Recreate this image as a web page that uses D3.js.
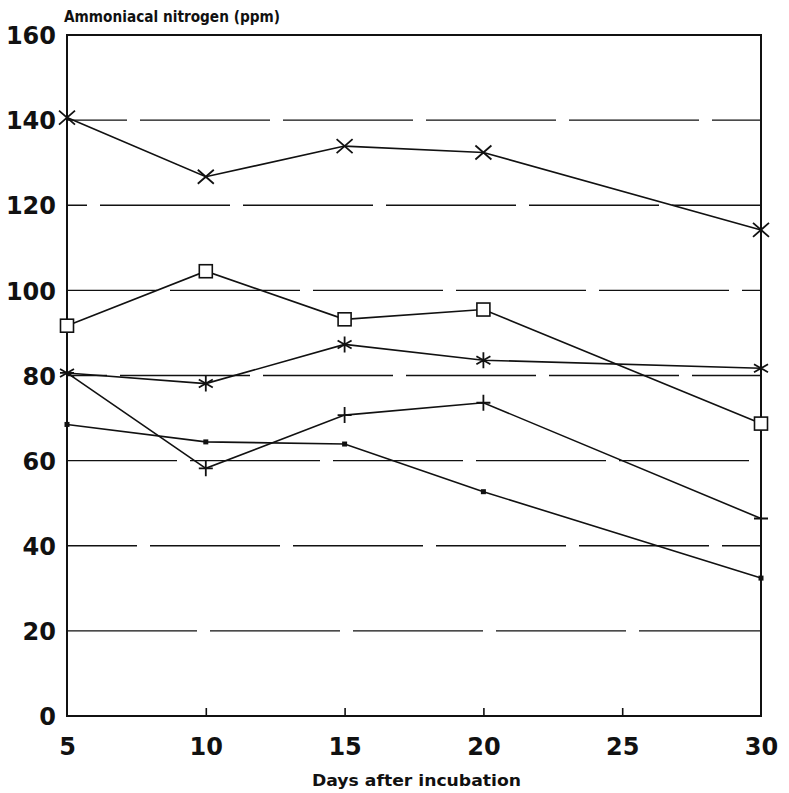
<!DOCTYPE html>
<html>
<head>
<meta charset="utf-8">
<script src="https://cdn.jsdelivr.net/npm/d3@7/dist/d3.min.js"></script>
<style>
  html, body { margin: 0; padding: 0; background: #fff; }
  svg { display: block; }
  text { font-family: "DejaVu Sans", "Liberation Sans", Arial, sans-serif; font-weight: bold; fill: #111; }
</style>
</head>
<body>
<svg id="chart" width="789" height="793"></svg>
<script>
// Days after incubation
const days = [5, 10, 15, 20, 30];
const xTicks = [5, 10, 15, 20, 25, 30];
const yTicks = [0, 20, 40, 60, 80, 100, 120, 140, 160];

// Ammoniacal nitrogen (ppm) per treatment
const seriesCross    = [140.6, 126.7, 133.9, 132.4, 114.2];
const seriesSquare   = [91.7, 104.5, 93.2, 95.5, 68.7];
const seriesAsterisk = [80.6, 78.1, 87.3, 83.6, 81.7];
const seriesPlus     = [80.6, 58.2, 70.7, 73.6, 46.4];
const seriesDot      = [68.5, 64.4, 63.9, 52.7, 32.4];

const series = [
  { values: seriesCross, marker: "cross" },
  { values: seriesSquare, marker: "square" },
  { values: seriesAsterisk, marker: "asterisk" },
  { values: seriesPlus, marker: "plus" },
  { values: seriesDot, marker: "dot" }
];

const svg = d3.select("#chart");
const plotLeft = 67, plotRight = 761, plotTop = 35, plotBottom = 716;
const labelFont = "DejaVu Sans, Liberation Sans, Arial, sans-serif";

const x = d3.scaleLinear().domain([5, 30]).range([plotLeft, plotRight]);
const y = d3.scaleLinear().domain([0, 160]).range([plotBottom, plotTop]);

const ink = "#111";

// dashed horizontal gridlines
const dashOffsets = { 20: 0, 40: 60, 60: 20, 80: 90, 100: 40, 120: 110, 140: 70 };
svg.append("g").selectAll("line")
  .data(yTicks.filter(d => d > 0 && d < 160))
  .join("line")
  .attr("x1", plotLeft).attr("x2", plotRight)
  .attr("y1", d => y(d)).attr("y2", d => y(d))
  .attr("stroke", ink).attr("stroke-width", 1.3)
  .attr("stroke-dasharray", "130,13")
  .attr("stroke-dashoffset", d => dashOffsets[d]);

// frame
svg.append("rect")
  .attr("x", plotLeft).attr("y", plotTop)
  .attr("width", plotRight - plotLeft).attr("height", plotBottom - plotTop)
  .attr("fill", "none").attr("stroke", ink).attr("stroke-width", 2);

// bottom axis: inward ticks and labels
const xAxis = d3.axisBottom(x).tickValues(xTicks).tickSizeInner(-8).tickSizeOuter(0).tickPadding(20);
const gx = svg.append("g").attr("transform", `translate(0,${plotBottom})`).call(xAxis);
gx.select(".domain").remove();
gx.selectAll(".tick line").attr("stroke", ink).attr("stroke-width", 1.6)
  .filter(d => d === 5 || d === 30).remove();
gx.selectAll(".tick text")
  .attr("font-size", 24).attr("font-family", labelFont)
  .attr("font-weight", "bold").attr("fill", ink)
  .attr("dy", "0.73em").attr("y", 21);

// left axis labels
const yAxis = d3.axisLeft(y).tickValues(yTicks).tickSize(0).tickPadding(11);
const gy = svg.append("g").attr("transform", `translate(${plotLeft},0)`).call(yAxis);
gy.select(".domain").remove();
gy.selectAll(".tick text")
  .attr("font-size", 24).attr("font-family", labelFont)
  .attr("font-weight", "bold").attr("fill", ink)
  .attr("dy", "0.36em");

// axis titles
svg.append("text").attr("x", 64).attr("y", 22)
  .attr("font-size", 15).attr("textLength", 216).attr("lengthAdjust", "spacingAndGlyphs")
  .text("Ammoniacal nitrogen (ppm)");
svg.append("text").attr("x", 312).attr("y", 786)
  .attr("font-size", 15).attr("textLength", 209).attr("lengthAdjust", "spacingAndGlyphs")
  .text("Days after incubation");

// series lines
const line = d3.line().x((d, i) => x(days[i])).y(d => y(d));
svg.append("g").selectAll("path")
  .data(series)
  .join("path")
  .attr("d", s => line(s.values))
  .attr("fill", "none").attr("stroke", ink).attr("stroke-width", 1.6);

// markers
function drawMarker(g, type) {
  if (type === "cross") {
    g.append("path").attr("d", "M-8,-7L8,7M-8,7L8,-7")
      .attr("stroke", ink).attr("stroke-width", 1.8).attr("fill", "none");
  } else if (type === "square") {
    g.append("rect").attr("x", -6.5).attr("y", -6.5).attr("width", 13).attr("height", 13)
      .attr("fill", "#fff").attr("stroke", ink).attr("stroke-width", 1.6);
  } else if (type === "asterisk") {
    g.append("path").attr("d", "M0,-8L0,8M-7,-4L7,4M-7,4L7,-4")
      .attr("stroke", ink).attr("stroke-width", 1.8).attr("fill", "none");
  } else if (type === "plus") {
    g.append("path").attr("d", "M0,-8L0,8M-7,0L7,0")
      .attr("stroke", ink).attr("stroke-width", 1.8).attr("fill", "none");
  } else if (type === "dot") {
    g.append("rect").attr("x", -2.5).attr("y", -2.5).attr("width", 5).attr("height", 5)
      .attr("fill", ink);
  }
}

series.forEach(s => {
  svg.append("g").selectAll("g")
    .data(s.values)
    .join("g")
    .attr("transform", (d, i) => `translate(${x(days[i])},${y(d)})`)
    .each(function () { drawMarker(d3.select(this), s.marker); });
});
</script>
</body>
</html>
